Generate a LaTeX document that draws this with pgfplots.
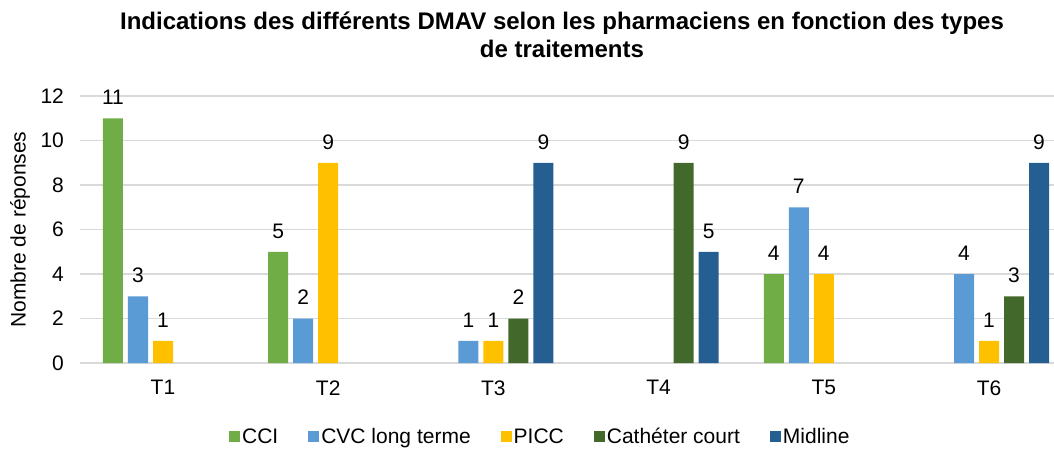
\documentclass[border=0pt]{standalone}
\usepackage{fontspec}
\setmainfont{Liberation Sans}
\usepackage{pgfplots}
\pgfplotsset{compat=1.18}
\definecolor{cci}{HTML}{70AD47}
\definecolor{cvc}{HTML}{5B9BD5}
\definecolor{picc}{HTML}{FFC000}
\definecolor{cath}{HTML}{43682B}
\definecolor{mid}{HTML}{255E91}
\definecolor{gridc}{HTML}{D9D9D9}
\begin{document}
\begin{tikzpicture}
\path[use as bounding box] (-80.4pt,-85pt) rectangle (973.6pt,363pt);
\begin{axis}[
  at={(0pt,0pt)}, anchor=south west,
  scale only axis,
  width=991.2pt, height=267pt,
  xmin=-0.5, xmax=5.5, ymin=0, ymax=12,
  ybar=5pt, bar width=20pt,
  xtick={0,1,2,3,4,5},
  xticklabels={T1,T2,T3,T4,T5,T6},
  ytick={0,2,4,6,8,10,12},
  major tick length=0pt,
  axis x line*=bottom,
  axis y line*=left,
  x axis line style={draw=gridc, line width=1.2pt, -},
  y axis line style={draw=none},
  ymajorgrids,
  grid style={draw=gridc, line width=1.2pt},
  /pgf/number format/assume math mode=true,
  ticklabel style={font=\fontsize{21}{25}\selectfont},
  xticklabel style={yshift=-14pt},
  yticklabel style={xshift=-13pt},
  ylabel={Nombre de réponses},
  ylabel style={font=\fontsize{21}{25}\selectfont, at={(axis description cs:-0.0609,0.5)}, anchor=center},
  nodes near coords,
  nodes near coords style={font=\fontsize{21}{25}\selectfont, yshift=10pt, text=black},
  legend columns=5,
  legend style={draw=none, fill=none, at={(0.464,-0.277)}, anchor=center,
    font=\fontsize{21}{25}\selectfont,
    nodes={inner sep=2pt},
    /tikz/every even column/.append style={column sep=28pt}},
  legend image code/.code={\fill[#1] (0pt,-5.5pt) rectangle (11pt,5.5pt);},
  clip=false,
]
\addplot[fill=cci, draw=none] coordinates {(0,11) (1,5) (4,4)};
\addplot[fill=cvc, draw=none] coordinates {(0,3) (1,2) (2,1) (4,7) (5,4)};
\addplot[fill=picc, draw=none] coordinates {(0,1) (1,9) (2,1) (4,4) (5,1)};
\addplot[fill=cath, draw=none] coordinates {(2,2) (3,9) (5,3)};
\addplot[fill=mid, draw=none] coordinates {(2,9) (3,5) (5,9)};
\legend{CCI, CVC long terme, PICC, Cathéter court, Midline}
\end{axis}
\node[anchor=base, font=\bfseries\fontsize{24}{28}\selectfont] at (481.6pt,334pt) {Indications des différents DMAV selon les pharmaciens en fonction des types};
\node[anchor=base, font=\bfseries\fontsize{24}{28}\selectfont] at (481.6pt,306pt) {de traitements};
\end{tikzpicture}
\end{document}
